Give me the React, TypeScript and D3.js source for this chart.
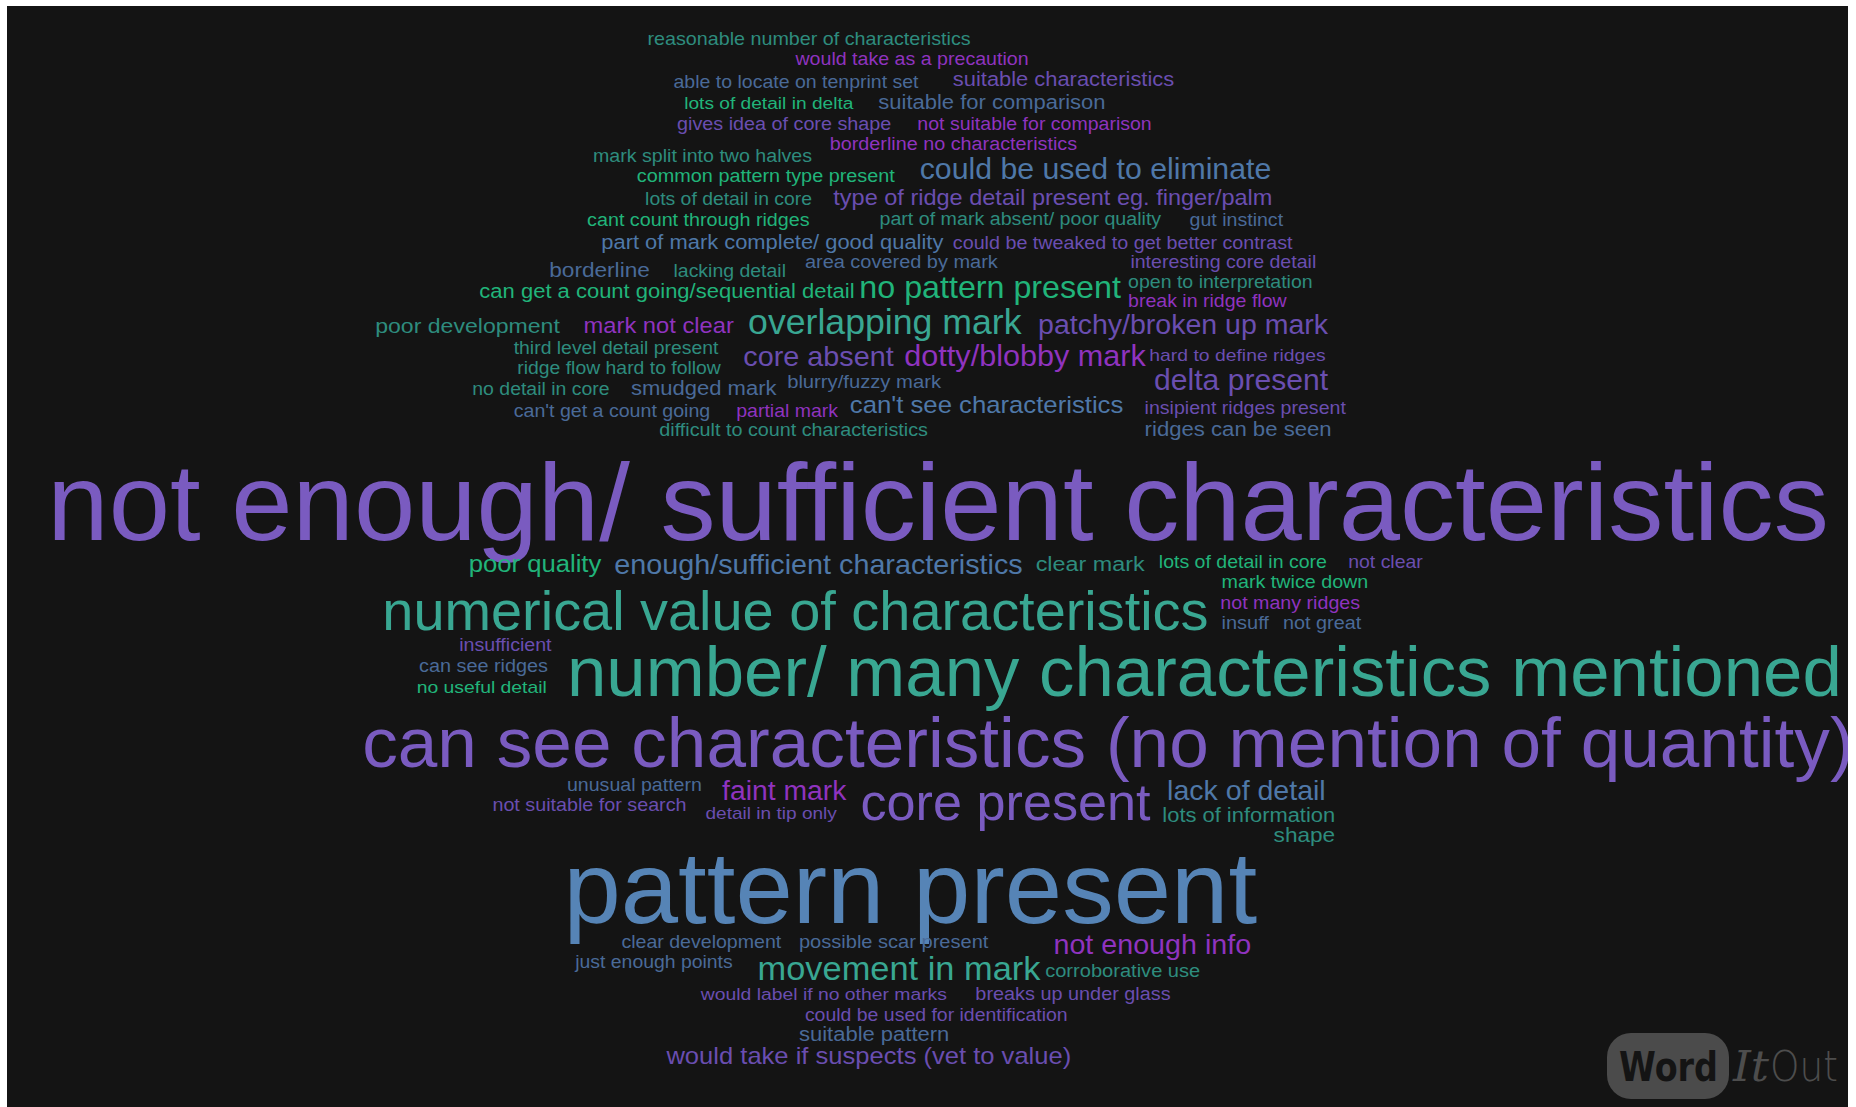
import React, { useMemo } from "react";
import * as d3 from "d3";

// Word list: [text, colour group]
const words: [string, string][] = [
  ["reasonable number of characteristics", "tealD"],
  ["would take as a precaution", "magenta"],
  ["able to locate on tenprint set", "slate"],
  ["suitable characteristics", "purple2"],
  ["lots of detail in delta", "green"],
  ["suitable for comparison", "slate"],
  ["gives idea of core shape", "purple2"],
  ["not suitable for comparison", "magenta"],
  ["borderline no characteristics", "magenta"],
  ["mark split into two halves", "tealD"],
  ["could be used to eliminate", "blue2"],
  ["common pattern type present", "green"],
  ["lots of detail in core", "tealD"],
  ["type of ridge detail present eg. finger/palm", "purple2"],
  ["cant count through ridges", "green"],
  ["part of mark absent/ poor quality", "tealD"],
  ["gut instinct", "slate"],
  ["part of mark complete/ good quality", "blue2"],
  ["could be tweaked to get better contrast", "purple2"],
  ["borderline", "slate"],
  ["lacking detail", "tealD"],
  ["area covered by mark", "slate"],
  ["interesting core detail", "purple2"],
  ["can get a count going/sequential detail", "green"],
  ["no pattern present", "green"],
  ["open to interpretation", "tealD"],
  ["break in ridge flow", "magenta"],
  ["poor development", "tealD"],
  ["mark not clear", "magenta"],
  ["overlapping mark", "teal"],
  ["patchy/broken up mark", "purple2"],
  ["third level detail present", "tealD"],
  ["ridge flow hard to follow", "tealD"],
  ["core absent", "purple2"],
  ["dotty/blobby mark", "magenta"],
  ["hard to define ridges", "purple2"],
  ["no detail in core", "tealD"],
  ["smudged mark", "slate"],
  ["blurry/fuzzy mark", "slate"],
  ["delta present", "purple2"],
  ["can't get a count going", "slate"],
  ["partial mark", "magenta"],
  ["can't see characteristics", "blue2"],
  ["insipient ridges present", "purple2"],
  ["difficult to count characteristics", "tealD"],
  ["ridges can be seen", "slate"],
  ["not enough/ sufficient characteristics", "purple"],
  ["poor quality", "green"],
  ["enough/sufficient characteristics", "blue2"],
  ["clear mark", "tealD"],
  ["lots of detail in core", "green"],
  ["not clear", "purple2"],
  ["mark twice down", "green"],
  ["not many ridges", "magenta"],
  ["insuff", "slate"],
  ["not great", "slate"],
  ["numerical value of characteristics", "teal"],
  ["insufficient", "purple2"],
  ["can see ridges", "slate"],
  ["no useful detail", "green"],
  ["number/ many characteristics mentioned", "teal"],
  ["can see characteristics (no mention of quantity)", "purple"],
  ["unusual pattern", "slate"],
  ["not suitable for search", "purple2"],
  ["faint mark", "magenta"],
  ["detail in tip only", "purple2"],
  ["core present", "purple"],
  ["lack of detail", "blue2"],
  ["lots of information", "tealD"],
  ["shape", "tealD"],
  ["pattern present", "blue"],
  ["clear development", "slate"],
  ["possible scar present", "slate"],
  ["not enough info", "magenta"],
  ["just enough points", "slate"],
  ["movement in mark", "teal"],
  ["corroborative use", "tealD"],
  ["would label if no other marks", "purple2"],
  ["breaks up under glass", "purple2"],
  ["could be used for identification", "purple2"],
  ["suitable pattern", "slate"],
  ["would take if suspects (vet to value)", "purple2"],
];

// Cloud placement (reference units): [left, right, baseline]
const placement: [number, number, number][] = [
  [547, 820, 38],
  [672, 869, 55],
  [569, 776, 74],
  [805, 992, 73],
  [578, 721, 92],
  [742, 934, 92],
  [572, 753, 110],
  [775, 973, 110],
  [701, 910, 127],
  [501, 686, 137],
  [777, 1074, 151],
  [538, 756, 154],
  [545, 686, 173],
  [704, 1075, 173],
  [496, 684, 191],
  [743, 981, 190],
  [1005, 1084, 191],
  [508, 797, 210],
  [805, 1092, 210],
  [464, 549, 234],
  [569, 664, 234],
  [680, 843, 226],
  [955, 1112, 226],
  [405, 722, 252],
  [726, 947, 252],
  [953, 1109, 243],
  [953, 1087, 259],
  [317, 473, 281],
  [493, 620, 281],
  [632, 863, 282],
  [877, 1122, 282],
  [434, 607, 299],
  [437, 609, 316],
  [628, 755, 309],
  [764, 968, 309],
  [971, 1120, 305],
  [399, 515, 334],
  [533, 656, 334],
  [665, 795, 328],
  [975, 1122, 329],
  [434, 600, 352],
  [622, 708, 352],
  [718, 949, 349],
  [967, 1137, 350],
  [557, 784, 368],
  [967, 1125, 368],
  [40, 1545, 456],
  [396, 508, 483],
  [519, 864, 485],
  [875, 967, 482],
  [979, 1121, 480],
  [1139, 1202, 480],
  [1032, 1156, 497],
  [1031, 1149, 514],
  [1032, 1072, 531],
  [1084, 1150, 531],
  [323, 1021, 532],
  [388, 466, 550],
  [354, 463, 568],
  [352, 462, 585],
  [479, 1556, 588],
  [306, 1566, 648],
  [479, 593, 668],
  [416, 580, 685],
  [610, 715, 676],
  [596, 707, 692],
  [727, 972, 693],
  [986, 1120, 676],
  [982, 1128, 694],
  [1076, 1128, 711],
  [476, 1062, 780],
  [525, 660, 801],
  [675, 835, 801],
  [890, 1057, 806],
  [486, 619, 818],
  [640, 879, 828],
  [883, 1014, 825],
  [592, 800, 845],
  [824, 989, 845],
  [680, 902, 862],
  [675, 802, 879],
  [563, 905, 899],
];

const groups = ["purple", "purple2", "teal", "tealD", "green", "magenta", "blue", "blue2", "slate"];
const groupColors = ["#7a5bc0", "#6a4eb0", "#39a792", "#2e8c7e", "#21b47a", "#8f33bf", "#5684b6", "#4f78a8", "#4a6a98"];

const W = 1856;
const H = 1107;
const FONT = "'Liberation Sans', Arial, Helvetica, sans-serif";

export default function App() {
  const sx = d3.scaleLinear().domain([0, 1568]).range([0, W]);
  const sy = d3.scaleLinear().domain([0, 935]).range([0, H]);
  const color = d3.scaleOrdinal<string, string>().domain(groups).range(groupColors);

  const items = useMemo(() => {
    const canvas = document.createElement("canvas");
    const ctx = canvas.getContext("2d")!;
    ctx.font = `100px ${FONT}`;
    return words.map(([text, g], i) => {
      const [l, r, b] = placement[i];
      const width = sx(r) - sx(l);
      const natural = ctx.measureText(text).width;
      const base = (width / natural) * 100;
      const size = base < 26 ? base * 0.9 : base * 0.99;
      return { text, g, x: sx(l), y: sy(b), width, size };
    });
  }, []);

  const bgX = 7, bgY = 6, bgW = 1841, bgH = 1101;

  return (
    <svg
      width={W}
      height={H}
      style={{ position: "absolute", left: 0, top: 0, background: "#ffffff" }}
    >
      <defs>
        <clipPath id="bgclip">
          <rect x={bgX} y={bgY} width={bgW} height={bgH} />
        </clipPath>
      </defs>
      <rect x={bgX} y={bgY} width={bgW} height={bgH} fill="#141414" />
      <g clipPath="url(#bgclip)">
        {items.map((d, i) => (
          <text
            key={i}
            x={d.x}
            y={d.y}
            fontFamily={FONT}
            fontSize={d.size}
            fill={color(d.g)}
            textLength={d.width}
            lengthAdjust="spacingAndGlyphs"
          >
            {d.text}
          </text>
        ))}
        {/* WordItOut logo */}
        <g>
          <rect x={1607} y={1033} width={122} height={66} rx={24} ry={24} fill="#4b4b4b" />
          <text x={1619} y={1081} fontFamily="'DejaVu Sans', sans-serif" fontWeight="bold" fontSize={40} fill="#141414" textLength={99} lengthAdjust="spacingAndGlyphs">Word</text>
          <text x={1733} y={1081} fontFamily="'DejaVu Serif', serif" fontStyle="italic" fontSize={42} fill="#4d4d4d" textLength={36} lengthAdjust="spacingAndGlyphs">It</text>
          <text x={1770} y={1081} fontFamily="'DejaVu Sans', sans-serif" fontWeight={300} fontSize={42} fill="#4d4d4d" textLength={68} lengthAdjust="spacingAndGlyphs">Out</text>
        </g>
      </g>
    </svg>
  );
}
